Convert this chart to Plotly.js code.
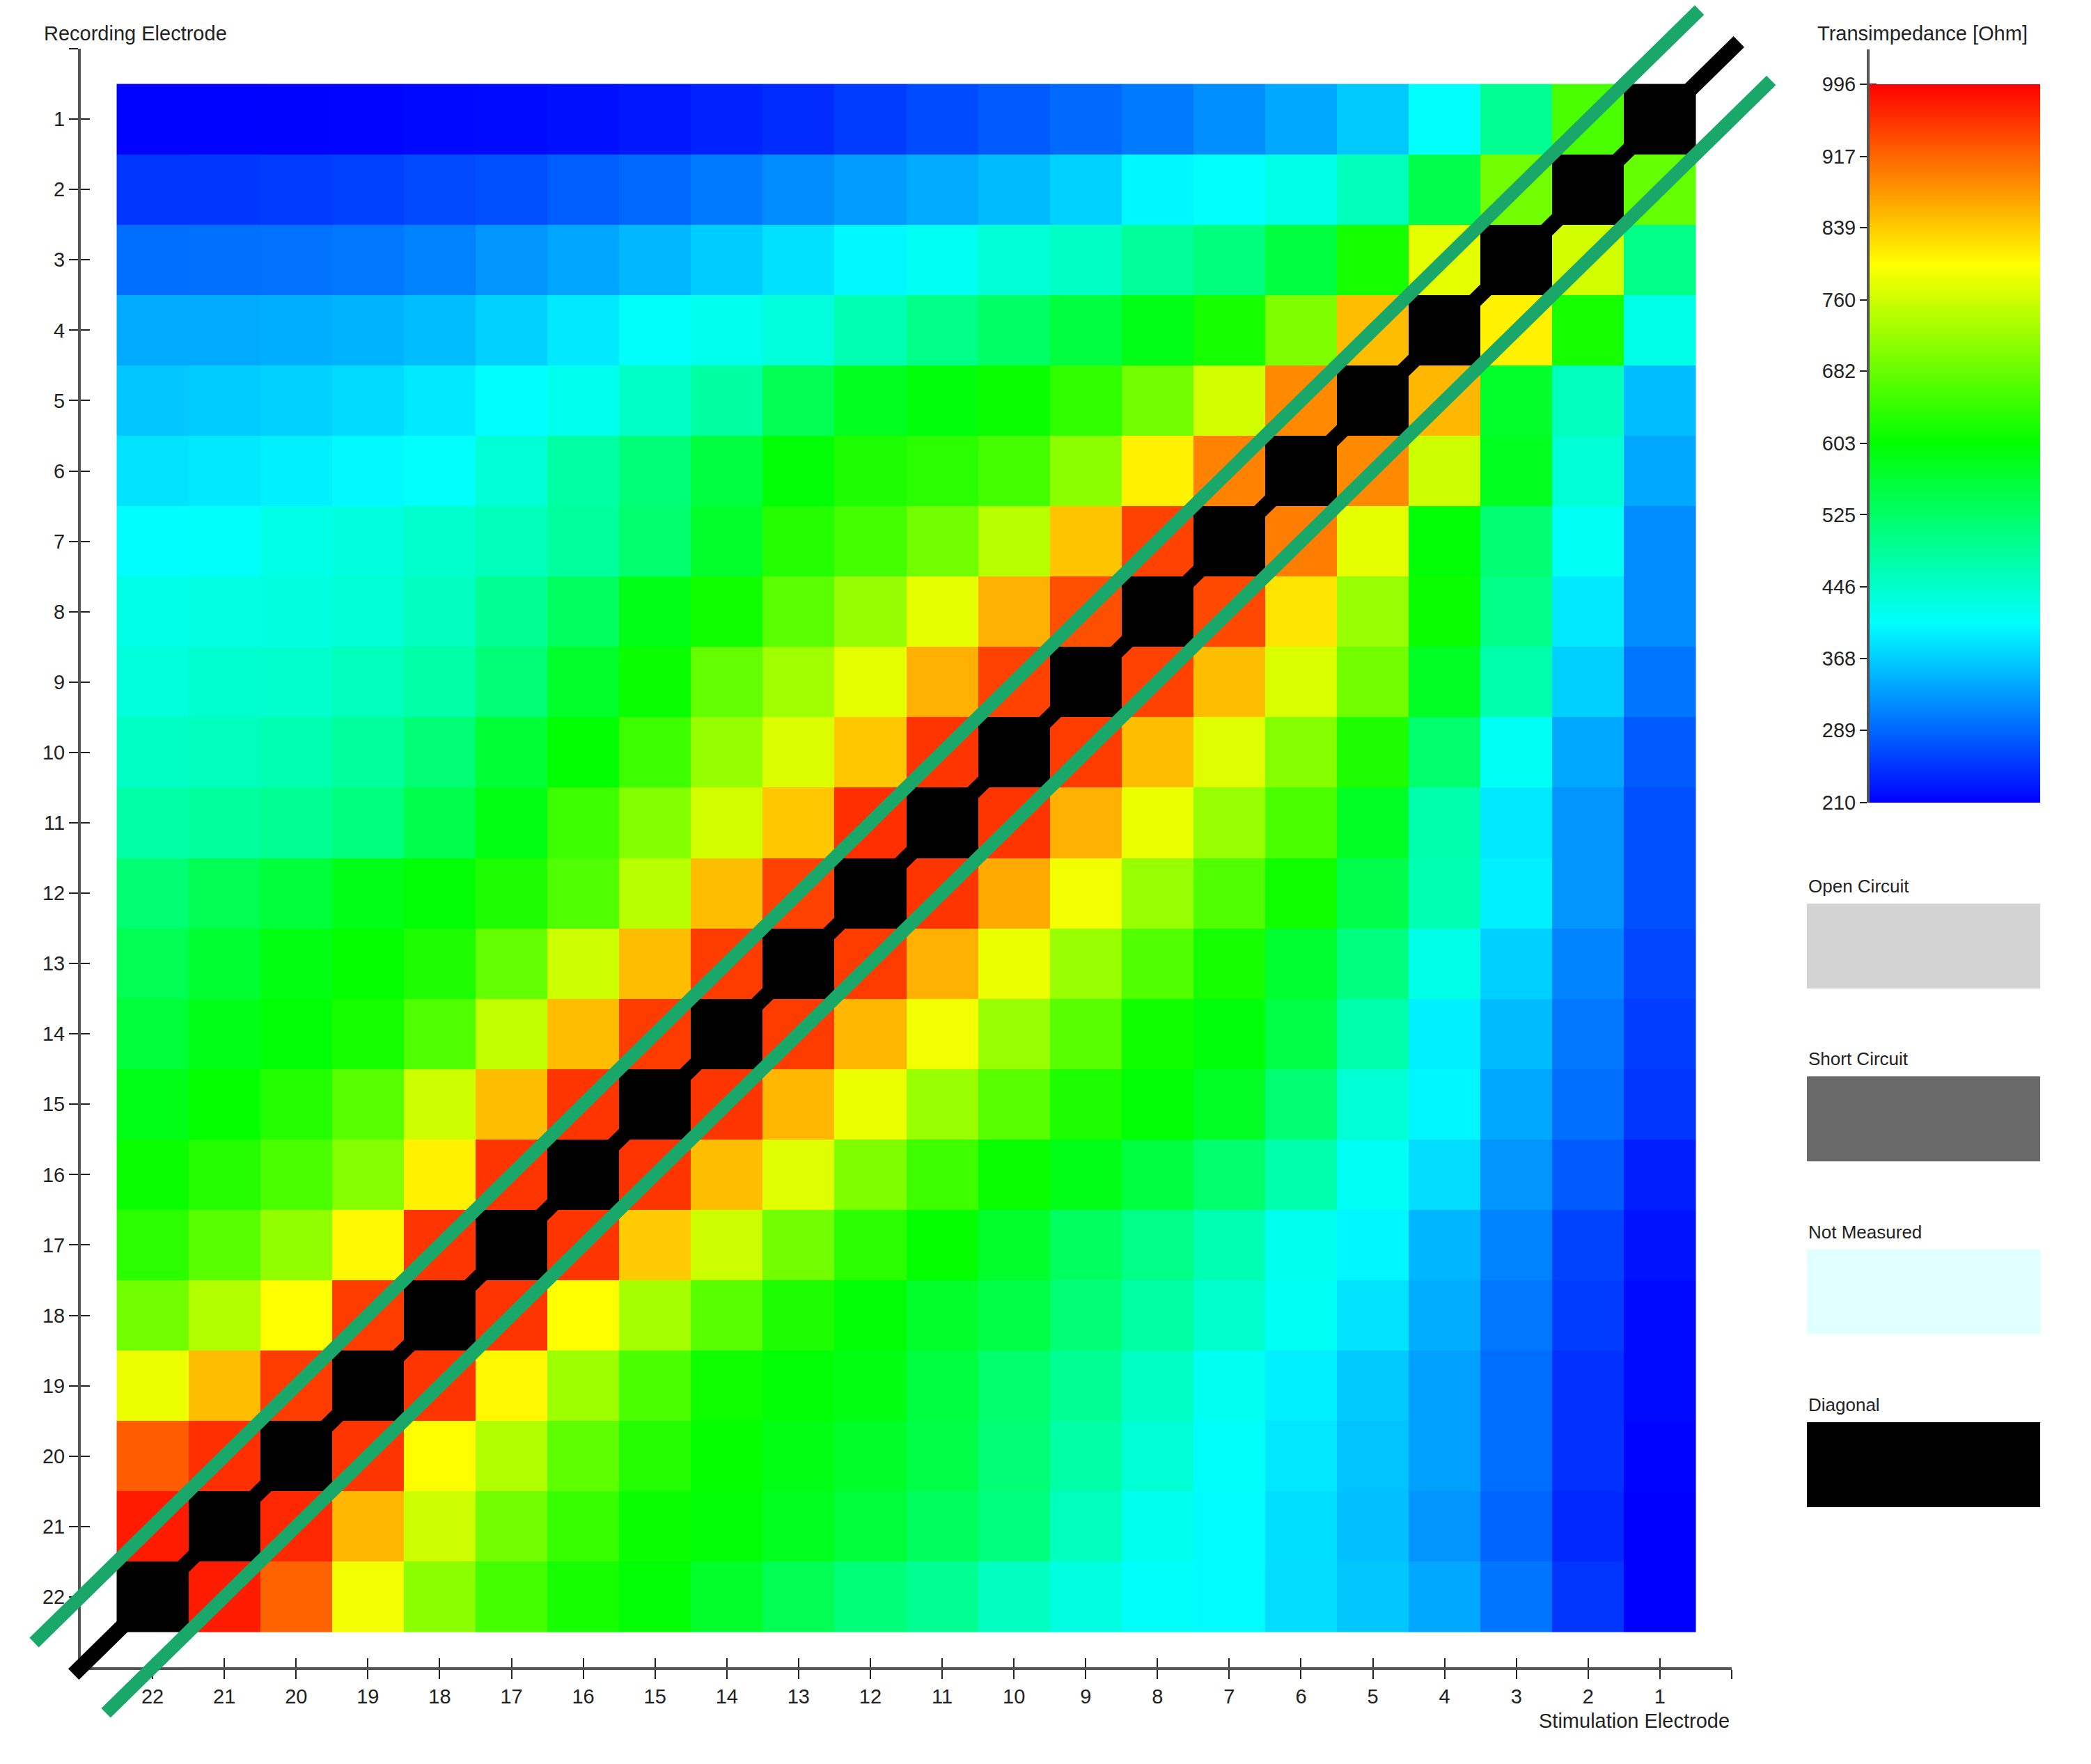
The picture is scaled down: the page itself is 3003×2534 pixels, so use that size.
<!DOCTYPE html>
<html>
<head>
<meta charset="utf-8">
<script src="https://cdn.plot.ly/plotly-3.0.1.min.js"></script>
<style>body{margin:0;background:#fff}</style>
</head>
<body>
<div id="chart" style="width:3003px;height:2534px"></div>
<script>
// electrodes as drawn: stimulation runs 22 -> 1 left to right, recording 1 -> 22 top to bottom
var stimElectrodes = [22,21,20,19,18,17,16,15,14,13,12,11,10,9,8,7,6,5,4,3,2,1];
var recElectrodes = [1,2,3,4,5,6,7,8,9,10,11,12,13,14,15,16,17,18,19,20,21,22];

// transimpedance [Ohm], one row per recording electrode, columns in stimElectrodes order
// null = diagonal (stimulating and recording on the same electrode)
var transimpedance = [
  [212,212,213,214,216,218,222,228,236,244,256, 268,280,292,305,320,340,365,408,490,660,null],
  [250,252,255,260,266,272,282,290,305,318,330, 341,355,372,400,408,425,460,545,690,null,680],
  [295,296,298,302,310,325,337,352,368,383,402, 416,438,452,485,508,555,620,780,null,765,500],
  [341,342,344,348,356,371,390,410,420,435,465, 500,525,555,585,620,700,850,null,810,620,425],
  [364,368,371,379,390,406,420,450,480,540,580, 595,610,640,690,765,890,null,855,570,458,356],
  [385,390,395,403,408,440,478,510,555,600,625, 635,655,710,810,895,null,890,760,580,440,340],
  [406,410,425,432,445,460,482,520,570,630,655, 690,745,845,945,null,900,780,600,515,415,318],
  [425,428,432,440,455,490,530,585,615,672,718, 780,860,935,null,940,820,720,610,500,390,318],
  [435,443,446,458,474,513,570,610,680,726,780, 860,945,null,945,850,770,690,575,470,370,300],
  [452,458,467,482,513,562,603,649,718,772,843, 955,null,950,850,775,705,625,520,415,340,280],
  [474,482,490,505,546,588,649,703,765,843,960, null,955,860,785,720,660,575,470,390,325,272],
  [515,540,560,585,600,625,665,745,850,945,null, 955,865,790,720,665,615,545,465,395,325,272],
  [540,565,590,605,625,680,760,850,950,null,950, 860,785,720,665,620,565,505,425,370,312,265],
  [560,585,600,620,665,750,850,950,null,950,855, 790,720,670,615,595,550,470,395,355,302,258],
  [585,605,630,670,760,850,955,null,955,855,785, 720,670,625,600,575,515,440,400,340,295,250],
  [610,630,660,705,810,955,null,955,850,775,700, 650,610,585,555,520,470,415,380,325,280,233],
  [635,670,715,805,955,null,955,840,760,690,635, 605,570,530,500,465,420,400,350,312,262,225],
  [690,740,800,950,null,955,800,730,670,625,600, 570,550,513,478,445,415,385,343,302,256,218],
  [785,850,950,null,955,805,725,660,615,600,590, 555,520,490,452,418,395,365,333,295,248,218],
  [925,960,null,955,800,740,675,630,605,588,572, 548,513,474,440,410,388,360,333,295,248,212],
  [975,null,965,855,760,690,645,610,598,580,560, 532,505,458,420,404,382,358,325,287,241,210],
  [null,975,920,790,710,655,620,600,570,540,510, 490,455,430,410,404,380,364,340,300,250,210]
];

var scaleTicks = [210, 289, 368, 446, 525, 603, 682, 760, 839, 917, 996];

var statusNames = ['Open Circuit', 'Short Circuit', 'Not Measured', 'Diagonal'];
var statusColors = ['#d3d3d3', '#696969', '#e0ffff', '#000000'];

// hand-drawn marker band: black along the diagonal, green one electrode off each side
var bandOffset = 1;
var bandEnds = [23.1, -0.1];

var jet = [[0, '#0000ff'], [0.25, '#00ffff'], [0.5, '#00ff00'], [0.75, '#ffff00'], [1, '#ff0000']];
var font = 'Liberation Sans, Arial, sans-serif';

// page geometry (px)
var W = 3003, H = 2534;
var M = {l: 30, r: 73, t: 5, b: 60};
var PW = W - M.l - M.r, PH = H - M.t - M.b;
function fx(px) { return (px - M.l) / PW; }
function fy(py) { return (H - M.b - py) / PH; }

var box = {left: 116, right: 2487, top: 70, bottom: 2395};
var axMax = 23;
var unitX = (box.right - box.left) / axMax;
var unitY = (box.bottom - box.top) / axMax;

var diagZ = recElectrodes.map(function (r) {
  return stimElectrodes.map(function (s) { return r === s ? 1 : null; });
});

var axTicks = [0].concat(recElectrodes);
var axText = [''].concat(recElectrodes.map(String));

function empty(xa, ya) {
  return {type: 'scatter', mode: 'markers', x: [], y: [], xaxis: xa, yaxis: ya, hoverinfo: 'skip'};
}

var traces = [
  {
    type: 'heatmap', x: stimElectrodes, y: recElectrodes, z: transimpedance,
    colorscale: jet, zmin: scaleTicks[0], zmax: scaleTicks[scaleTicks.length - 1],
    showscale: false, hoverongaps: false, xaxis: 'x', yaxis: 'y'
  },
  {
    type: 'heatmap', x: stimElectrodes, y: recElectrodes, z: diagZ,
    colorscale: [[0, '#000'], [1, '#000']], showscale: false, xaxis: 'x', yaxis: 'y'
  },
  {
    type: 'scatter', mode: 'lines', x: bandEnds, y: bandEnds,
    line: {color: '#000', width: 22}, xaxis: 'x2', yaxis: 'y2', hoverinfo: 'skip'
  },
  {
    type: 'scatter', mode: 'lines',
    x: bandEnds.map(function (v) { return v + 0.55; }),
    y: bandEnds.map(function (v) { return v + 0.55 - bandOffset; }),
    line: {color: '#19a86a', width: 19}, xaxis: 'x2', yaxis: 'y2', hoverinfo: 'skip'
  },
  {
    type: 'scatter', mode: 'lines',
    x: bandEnds.map(function (v) { return v - 0.45; }),
    y: bandEnds.map(function (v) { return v - 0.45 + bandOffset; }),
    line: {color: '#19a86a', width: 19}, xaxis: 'x2', yaxis: 'y2', hoverinfo: 'skip'
  },
  {
    type: 'heatmap', x: [0, 1], y: scaleTicks,
    z: scaleTicks.map(function (v) { return [v, v]; }),
    colorscale: jet, zmin: scaleTicks[0], zmax: scaleTicks[scaleTicks.length - 1],
    zsmooth: 'best', showscale: false, xaxis: 'x3', yaxis: 'y4', hoverinfo: 'skip'
  },
  // empty traces so the extra axes get subplots
  empty('x3', 'y3'),
  empty('x4', 'y'),
  empty('x', 'y5'),
  empty('x3', 'y6')
];

var cbLeft = 2685, cbRight = 2930, cbTop = 121, cbBottom = 1153, cbAxisTop = 71;
var cbSpan = scaleTicks[scaleTicks.length - 1] - scaleTicks[0];
var cbRange = [scaleTicks[0], scaleTicks[0] + cbSpan * (cbBottom - cbAxisTop) / (cbBottom - cbTop)];

var axisStyle = {
  showgrid: false, zeroline: false, showline: true, linecolor: '#555', linewidth: 4,
  ticks: 'outside', ticklen: 13, tickwidth: 2, tickcolor: '#222',
  tickfont: {family: font, size: 29, color: '#222'}, fixedrange: true
};
// second half of the crossing tick marks
var innerTicks = {
  showgrid: false, zeroline: false, showline: false, showticklabels: false,
  ticks: 'inside', ticklen: 13, tickwidth: 2, tickcolor: '#222', fixedrange: true
};

var layout = {
  width: W, height: H, margin: M,
  paper_bgcolor: '#fff', plot_bgcolor: 'rgba(0,0,0,0)',
  showlegend: false, font: {family: font, color: '#222'},
  xaxis: Object.assign({}, axisStyle, {
    domain: [fx(box.left), fx(box.right)], range: [axMax, 0], anchor: 'y',
    tickmode: 'array', tickvals: axTicks, ticktext: axText
  }),
  yaxis: Object.assign({}, axisStyle, {
    domain: [fy(box.bottom), fy(box.top)], range: [axMax, 0], anchor: 'x',
    tickmode: 'array', tickvals: axTicks, ticktext: axText
  }),
  xaxis4: Object.assign({}, innerTicks, {
    overlaying: 'x', anchor: 'y', range: [axMax, 0], tickmode: 'array', tickvals: axTicks
  }),
  yaxis5: Object.assign({}, innerTicks, {
    overlaying: 'y', anchor: 'x', range: [axMax, 0], tickmode: 'array', tickvals: axTicks
  }),
  xaxis2: {
    domain: [0, 1], anchor: 'y2', visible: false, fixedrange: true,
    range: [axMax + (box.left - M.l) / unitX, -(W - M.r - box.right) / unitX]
  },
  yaxis2: {
    domain: [0, 1], anchor: 'x2', visible: false, fixedrange: true,
    range: [axMax + (H - M.b - box.bottom) / unitY, -(box.top - M.t) / unitY]
  },
  xaxis3: {
    domain: [fx(cbLeft), fx(cbRight)], anchor: 'y4', visible: false,
    range: [-0.5, 1.5], fixedrange: true
  },
  yaxis3: Object.assign({}, axisStyle, {
    domain: [fy(cbBottom), fy(cbAxisTop)], anchor: 'x3', side: 'left',
    range: cbRange, tickmode: 'array', tickvals: scaleTicks, ticklen: 10
  }),
  yaxis6: Object.assign({}, innerTicks, {
    overlaying: 'y3', anchor: 'x3', side: 'left',
    range: cbRange, tickmode: 'array', tickvals: scaleTicks, ticklen: 10
  }),
  yaxis4: {
    domain: [fy(cbBottom), fy(cbTop)], anchor: 'x3', visible: false,
    range: [scaleTicks[0], scaleTicks[scaleTicks.length - 1]], fixedrange: true
  },
  shapes: [],
  annotations: [
    {text: 'Recording Electrode', xref: 'paper', yref: 'paper', x: fx(61), y: fy(48),
     xanchor: 'left', yanchor: 'middle', showarrow: false, font: {family: font, size: 29, color: '#222'}},
    {text: 'Stimulation Electrode', xref: 'paper', yref: 'paper', x: fx(2486), y: fy(2472),
     xanchor: 'right', yanchor: 'middle', showarrow: false, font: {family: font, size: 29, color: '#222'}},
    {text: 'Transimpedance [Ohm]', xref: 'paper', yref: 'paper', x: fx(2608), y: fy(48),
     xanchor: 'left', yanchor: 'middle', showarrow: false, font: {family: font, size: 29, color: '#222'}}
  ]
};

// status swatches below the colour scale
var swLeft = 2595, swTop = 1298, swStep = 248.3, swH = 122;
statusNames.forEach(function (name, i) {
  var top = swTop + i * swStep;
  layout.shapes.push({
    type: 'rect', xref: 'paper', yref: 'paper', layer: 'above',
    x0: fx(swLeft), x1: fx(cbRight), y0: fy(top + swH), y1: fy(top),
    fillcolor: statusColors[i], line: {width: 0}
  });
  layout.annotations.push({
    text: name, xref: 'paper', yref: 'paper', x: fx(swLeft), y: fy(top - 25),
    xanchor: 'left', yanchor: 'middle', showarrow: false,
    font: {family: font, size: 26, color: '#222'}
  });
});

Plotly.newPlot('chart', traces, layout, {staticPlot: true});
</script>
</body>
</html>
